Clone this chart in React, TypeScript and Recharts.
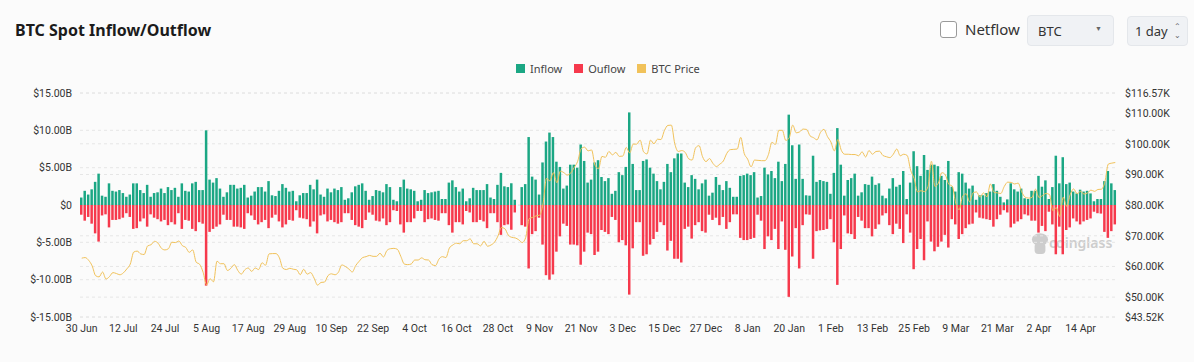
import { ComposedChart, Bar, Line, XAxis, YAxis, CartesianGrid } from 'recharts';

// daily values, 30 Jun 2024 -> 24 Apr 2025, in billions USD
const inflow = [
  1.0, 1.9, 1.4, 2.1, 3.1, 4.2, 1.25, 1.1, 2.9, 1.9, 1.8, 2.0, 1.6, 1.1, 1.4, 2.9, 2.9, 2.0, 1.6, 2.7, 1.1, 1.6, 1.7, 2.2, 1.6, 2.4, 2.0, 2.3, 1.1, 2.9, 1.9, 1.8, 2.9, 3.1, 2.0, 2.0, 10.0, 3.4, 3.0, 3.6, 2.2, 1.1, 1.7,
  2.7, 2.7, 2.2, 2.3, 2.7, 1.0, 1.25, 1.8, 2.4, 2.4, 1.8, 3.2, 1.3, 1.2, 1.9, 2.8, 2.3, 1.8, 1.9, 0.5, 1.3, 1.6, 1.6, 2.7, 2.1, 3.4, 1.4, 1.1, 2.2, 1.7, 2.2, 2.0, 2.4, 0.7, 0.9, 1.7, 2.5, 2.7, 2.9, 1.9, 0.7, 1.2, 2.0,
  1.9, 1.7, 2.8, 2.4, 0.7, 0.5, 2.4, 3.4, 2.2, 2.1, 1.9, 0.5, 0.7, 2.0, 1.6, 1.7, 1.8, 1.9, 0.8, 0.8, 3.0, 3.3, 2.4, 1.8, 2.2, 0.5, 0.9, 2.3, 2.0, 2.0, 2.0, 2.8, 1.0, 0.8, 2.7, 4.3, 2.5, 2.4, 2.9, 0.7, 0, 2.4, 2.8, 9.1,
  3.8, 3.4, 1.4, 5.7, 8.5, 9.7, 9.1, 5.8, 5.1, 2.2, 2.6, 5.4, 5.4, 5.0, 8.1, 5.9, 3.0, 3.4, 5.7, 6.0, 3.75, 3.2, 3.6, 1.5, 1.9, 4.4, 4.0, 5.1, 12.4, 5.5, 2.0, 2.0, 5.9, 6.1, 5.0, 4.2, 3.2, 2.1, 3.1, 5.5, 4.4, 6.25, 6.9,
  6.9, 3.0, 2.4, 4.0, 3.5, 2.1, 2.9, 3.4, 1.25, 1.65, 3.75, 2.7, 2.0, 3.2, 2.3, 1.1, 1.1, 3.9, 4.0, 4.2, 4.0, 4.4, 1.0, 1.2, 5.0, 4.1, 4.55, 3.6, 5.8, 3.2, 5.5, 12.1, 8.0, 3.5, 8.1, 3.5, 1.3, 1.25, 6.6, 3.1, 3.35, 3.2, 3.1,
  1.5, 4.3, 10.3, 5.4, 1.25, 3.35, 3.6, 4.2, 1.25, 1.7, 2.8, 2.7, 3.8, 2.7, 2.9, 1.25, 0.9, 2.2, 3.6, 2.45, 2.7, 4.55, 0.8, 3.0, 7.2, 5.2, 3.9, 6.7, 4.7, 5.4, 5.4, 5.2, 3.9, 3.35, 5.9, 2.45, 1.8, 4.4, 4.2, 3.0, 2.2, 2.6, 0.7, 1.3,
  1.3, 1.6, 1.8, 2.8, 1.9, 1.1, 0.35, 0.75, 2.9, 2.1, 1.8, 2.2, 0.9, 0.8, 1.9, 1.9, 3.9, 2.45, 3.3, 0.8, 2.4, 6.6, 2.9, 6.4, 2.8, 3.0, 1.8, 1.55, 2.05, 1.8, 1.9, 1.55, 0.5, 0.8, 0.8, 3.2, 4.55, 2.9, 2.0,
];

const outflow = [
  -1.3, -2.1, -1.6, -2.5, -3.8, -4.9, -1.4, -1.25, -3.0, -2.0, -2.0, -1.9, -1.7, -1.1, -1.6, -3.2, -3.1, -2.2, -1.8, -2.9, -1.25, -1.7, -1.9, -2.2, -2.0, -2.7, -2.3, -2.6, -1.1, -3.2, -2.0, -2.1, -3.2, -3.5, -2.3, -2.5, -10.8, -3.6, -3.2, -2.9, -2.6, -1.3, -2.0,
  -2.0, -2.9, -2.9, -3.0, -3.2, -1.1, -1.4, -2.0, -2.6, -2.3, -2.0, -3.1, -1.7, -1.3, -2.2, -3.0, -2.6, -2.0, -2.1, -0.7, -1.7, -1.8, -1.9, -2.9, -2.2, -3.8, -1.4, -1.25, -2.2, -2.0, -2.3, -2.5, -2.3, -1.1, -1.1, -2.0, -2.7, -2.9, -3.1, -2.0, -1.0, -1.3, -2.1,
  -2.2, -1.8, -2.7, -2.3, -0.7, -0.8, -2.6, -3.7, -2.3, -2.3, -1.8, -0.8, -0.8, -2.3, -1.9, -1.8, -2.0, -2.1, -1.1, -1.1, -2.7, -3.7, -2.3, -2.3, -2.6, -0.8, -1.0, -2.3, -2.3, -2.0, -2.2, -3.1, -1.1, -1.1, -2.3, -4.0, -2.7, -2.6, -3.3, -1.0, 0, -2.7, -2.9, -8.5,
  -3.9, -3.5, -1.7, -5.3, -9.4, -10.0, -9.3, -6.25, -4.2, -2.5, -2.8, -5.3, -5.3, -5.4, -8.0, -6.25, -3.7, -3.9, -6.7, -6.25, -3.35, -3.6, -3.9, -1.6, -2.0, -5.0, -4.7, -5.4, -12.0, -5.8, -2.3, -2.3, -6.8, -6.6, -5.3, -4.55, -3.6, -2.3, -2.7, -6.1, -4.8, -7.2, -7.2,
  -7.7, -3.2, -2.9, -4.5, -2.7, -2.3, -3.5, -3.7, -1.3, -2.0, -1.7, -2.7, -1.6, -3.2, -2.3, -1.25, -1.25, -4.4, -4.7, -4.7, -4.55, -4.4, -1.3, -2.1, -5.9, -4.2, -4.7, -3.2, -5.9, -2.2, -6.0, -12.3, -6.9, -3.1, -8.5, -2.7, -1.25, -1.3, -7.2, -3.5, -3.4, -3.35, -3.2,
  -1.9, -5.0, -10.7, -5.9, -1.4, -3.8, -3.9, -4.55, -1.6, -2.1, -3.1, -3.1, -4.2, -3.2, -2.6, -1.4, -1.1, -2.7, -3.9, -2.5, -3.2, -5.1, -1.25, -3.7, -8.6, -5.9, -4.55, -7.4, -2.2, -4.9, -6.2, -5.6, -4.9, -4.0, -5.7, -1.9, -2.6, -4.55, -3.9, -3.1, -2.6, -2.5, -1.0, -1.7,
  -1.8, -1.9, -2.0, -2.9, -1.9, -1.3, -0.7, -1.0, -3.0, -2.5, -2.2, -1.9, -1.25, -1.4, -2.1, -2.1, -3.7, -2.8, -3.5, -0.9, -2.6, -6.6, -2.9, -6.6, -3.35, -3.0, -1.8, -2.2, -2.6, -2.2, -2.0, -1.8, -0.9, -1.1, -1.15, -3.6, -4.4, -3.5, -2.6,
];

// BTC price, thousands USD
const btcPrice = [
  62.7,
  62.9, 62.0, 60.2, 57.0, 56.6, 58.2, 55.9, 56.7, 58.0, 57.7, 57.3, 57.9, 59.2, 60.8, 64.7, 65.0, 64.1, 63.9, 66.7, 67.1, 68.2, 67.6, 65.9, 65.4, 65.8, 67.9, 67.8, 68.3, 66.8, 66.2, 64.6,
  65.4, 61.4, 60.7, 58.1, 54.0, 56.0, 55.0, 61.7, 60.9, 60.9, 58.7, 59.4, 60.6, 58.7, 57.5, 58.9, 59.5, 58.4, 59.5, 59.0, 61.2, 60.4, 64.1, 64.2, 64.2, 62.8, 59.4, 59.0, 59.4, 59.1, 58.9,
  57.3, 59.1, 57.5, 58.0, 56.2, 53.9, 54.8, 54.9, 57.0, 57.6, 57.3, 58.1, 60.5, 60.0, 59.2, 58.2, 60.3, 61.7, 62.9, 63.2, 63.6, 63.3, 63.3, 64.3, 63.1, 65.2, 65.8, 65.9, 65.6, 63.3,
  60.8, 60.6, 60.8, 62.1, 62.1, 62.8, 62.2, 62.1, 60.6, 60.3, 62.4, 63.2, 62.9, 66.0, 67.0, 67.6, 67.4, 68.4, 68.4, 69.0, 67.4, 67.4, 66.7, 68.2, 66.6, 67.0, 67.9, 69.9, 72.7, 72.3, 70.2,
  69.5, 69.3, 68.7, 67.8, 69.4, 75.6, 76.0, 76.5, 76.7, 80.4, 88.7, 87.9, 90.6, 87.3, 91.1, 90.6, 89.8, 90.5, 92.3, 94.3, 98.4, 98.9, 97.7, 98.0, 93.0, 91.9, 95.9, 95.6, 97.5, 96.4,
  97.2, 95.9, 96.0, 98.8, 97.0, 99.9, 99.9, 101.2, 97.4, 96.7, 101.2, 100.0, 101.5, 101.4, 104.3, 106.0, 106.1, 100.0, 97.5, 97.8, 97.2, 95.1, 94.7, 98.7, 99.4, 95.8, 94.2, 95.2, 93.6, 92.6, 93.4,
  94.4, 96.9, 98.1, 98.2, 98.3, 102.1, 96.9, 95.0, 92.5, 94.7, 94.6, 94.5, 94.5, 96.5, 100.5, 99.8, 104.4, 104.4, 101.1, 102.0, 106.1, 103.6, 103.9, 104.8, 104.7, 102.6, 102.0, 101.3, 103.7, 104.7, 102.4,
  100.6, 97.7, 101.4, 97.9, 96.6, 96.6, 96.5, 96.5, 96.1, 97.4, 95.7, 97.8, 96.6, 97.5, 97.6, 96.2, 95.8, 95.5, 96.6, 98.3, 96.1, 96.6, 96.2, 91.4, 88.7, 84.3, 84.7, 84.4,
  86.0, 94.3, 86.1, 87.2, 90.6, 89.9, 86.8, 86.2, 80.7, 78.5, 82.9, 83.7, 81.1, 84.0, 84.3, 82.6, 84.0, 82.7, 86.9, 84.2, 84.0, 83.8, 86.1, 87.5, 87.4, 86.9, 87.2, 84.4, 82.6, 82.3, 82.5,
  85.2, 82.5, 83.1, 83.8, 83.5, 78.2, 79.2, 76.3, 82.6, 79.6, 83.4, 85.3, 83.7, 84.5, 83.6, 84.0, 84.9, 84.5, 85.1, 85.2, 87.5, 93.4, 93.7, 93.9,
];

const leftTicks = [-15, -10, -5, 0, 5, 10, 15];
const rightTicks = [43.52, 50, 60, 70, 80, 90, 100, 110, 116.57];
const MONTHS = ['Jan', 'Feb', 'Mar', 'Apr', 'May', 'Jun', 'Jul', 'Aug', 'Sep', 'Oct', 'Nov', 'Dec'];
const START = Date.UTC(2024, 5, 30);

const dates = btcPrice.map((_, i) => {
  const d = new Date(START + i * 86400000);
  return `${d.getUTCDate()} ${MONTHS[d.getUTCMonth()]}`;
});

const data = dates.map((date, i) => ({
  date,
  inflow: inflow[i],
  outflow: outflow[i],
  price: btcPrice[i],
}));

const GREEN = '#1ba784';
const RED = '#f6394c';
const GOLD = '#f1c25a';
const FONT = "'Noto Sans', sans-serif";

const tick = { fontSize: 10.5, fill: '#333', fontFamily: 'Roboto, sans-serif' };

function LegendItem({ color, label }: { color: string; label: string }) {
  return (
    <div style={{ display: 'flex', alignItems: 'center', marginRight: 12 }}>
      <div style={{ width: 9, height: 9, background: color, marginRight: 5 }} />
      <span style={{ fontSize: 11, color: '#444' }}>{label}</span>
    </div>
  );
}

export default function App() {
  return (
    <div
      style={{
        position: 'absolute',
        left: 0,
        top: 0,
        width: 1194,
        height: 362,
        background: '#fbfbfb',
        fontFamily: FONT,
        overflow: 'hidden',
      }}
    >
      <div style={{ position: 'absolute', left: 15, top: 19, fontSize: 16, fontWeight: 700, color: '#1b1b1b' }}>
        BTC Spot Inflow/Outflow
      </div>

      {/* controls */}
      <div
        style={{
          position: 'absolute', left: 940, top: 21, width: 15, height: 15,
          border: '1px solid #9a9a9a', borderRadius: 3, background: '#fff',
        }}
      />
      <div style={{ position: 'absolute', left: 965, top: 19, fontSize: 15, color: '#333' }}>Netflow</div>
      <div
        style={{
          position: 'absolute', left: 1027, top: 15, width: 85, height: 29,
          background: '#f0f2f5', border: '1px solid #e4e7eb', borderRadius: 4,
        }}
      >
        <span style={{ position: 'absolute', left: 10, top: 6, fontSize: 13, color: '#333' }}>BTC</span>
        <span style={{ position: 'absolute', left: 67, top: 8, fontSize: 7, color: '#666' }}>▼</span>
      </div>
      <div
        style={{
          position: 'absolute', left: 1127, top: 16, width: 59, height: 28,
          background: '#f0f2f5', border: '1px solid #e4e7eb', borderRadius: 4,
        }}
      >
        <span style={{ position: 'absolute', left: 7, top: 5, fontSize: 13, color: '#333' }}>1 day</span>
        <span style={{ position: 'absolute', left: 46, top: 4, fontSize: 8, lineHeight: '9px', color: '#666' }}>
          ⌃<br />⌄
        </span>
      </div>

      {/* legend */}
      <div style={{ position: 'absolute', left: 516, top: 61, display: 'flex' }}>
        <LegendItem color={GREEN} label="Inflow" />
        <LegendItem color={RED} label="Ouflow" />
        <LegendItem color={GOLD} label="BTC Price" />
      </div>

      {/* watermark */}
      <div style={{ position: 'absolute', left: 1031, top: 232, display: 'flex', alignItems: 'center' }}>
        <svg width="18" height="24" viewBox="0 0 20 26">
          <ellipse cx="10" cy="8" rx="9" ry="7" fill="#cdcdcd" />
          <rect x="4" y="12" width="12" height="12" rx="4" fill="#cdcdcd" />
        </svg>
        <span style={{ fontSize: 14, fontWeight: 600, color: '#cdcdcd', marginLeft: 0, marginTop: -4 }}>coinglass</span>
      </div>

      <div style={{ position: 'absolute', left: 0, top: 0 }}>
        <ComposedChart
          width={1194}
          height={362}
          data={data}
          stackOffset="sign"
          barSize={2.5}
          margin={{ top: 93, right: 7, bottom: 15, left: 8 }}
        >
          <CartesianGrid yAxisId="left" vertical={false} stroke="#e6e6e6" strokeDasharray="3 3" />
          <CartesianGrid yAxisId="right" vertical={false} stroke="#e6e6e6" strokeDasharray="3 3" />
          <XAxis
            dataKey="date"
            interval={11}
            tickLine={false}
            axisLine={false}
            tick={tick}
            height={30}
          />
          <YAxis
            yAxisId="left"
            domain={[-15, 15]}
            ticks={leftTicks}
            tickLine={false}
            axisLine={false}
            tick={tick}
            width={72}
            tickFormatter={(v: number) => (v === 0 ? '$0' : `$${v.toFixed(2)}B`)}
          />
          <YAxis
            yAxisId="right"
            orientation="right"
            domain={[43.52, 116.57]}
            ticks={rightTicks}
            tickLine={false}
            axisLine={false}
            tick={{ ...tick, textAnchor: 'start' }}
            width={70}
            tickFormatter={(v: number) => `$${v.toFixed(2)}K`}
          />
          <Bar yAxisId="left" dataKey="inflow" stackId="flow" fill={GREEN} isAnimationActive={false} />
          <Bar yAxisId="left" dataKey="outflow" stackId="flow" fill={RED} isAnimationActive={false} />
          <Line
            yAxisId="right"
            dataKey="price"
            type="monotone"
            stroke={GOLD}
            strokeWidth={1}
            dot={false}
            isAnimationActive={false}
          />
        </ComposedChart>
      </div>
    </div>
  );
}
